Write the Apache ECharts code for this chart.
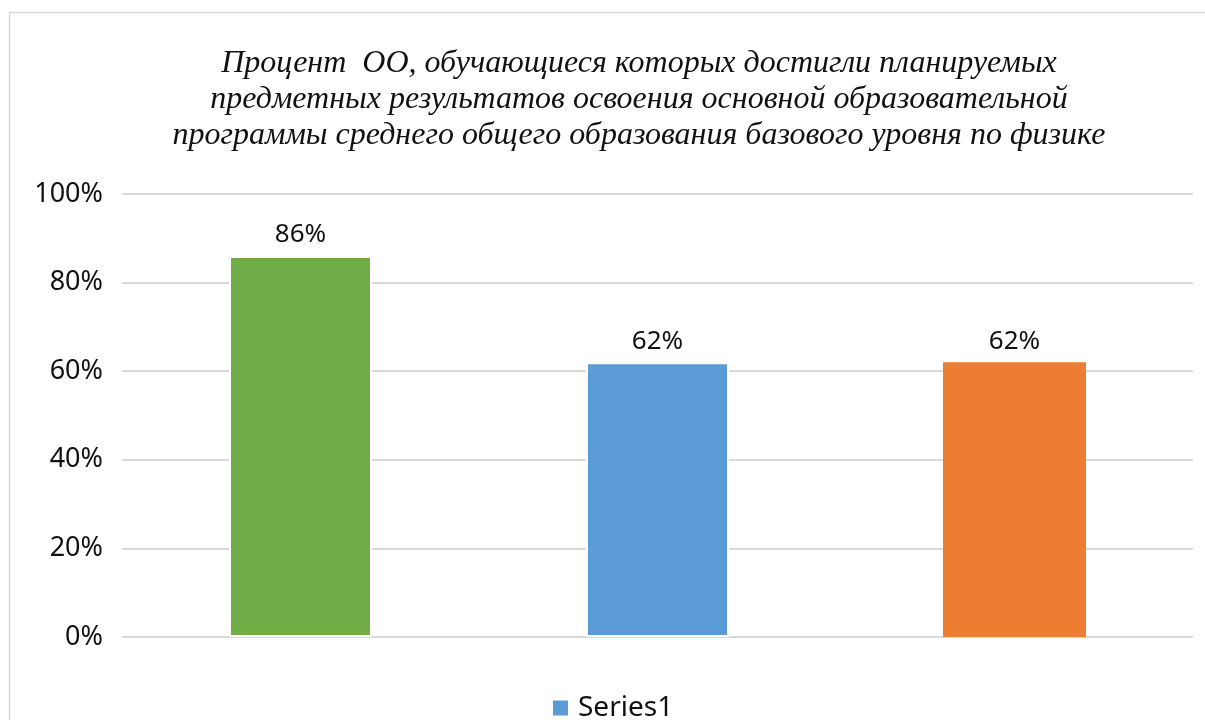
<!DOCTYPE html>
<html>
<head>
<meta charset="utf-8">
<script src="https://cdn.jsdelivr.net/npm/echarts@6/dist/echarts.min.js"></script>
<style>
  html, body { margin: 0; padding: 0; background: #fff; }
  #chart { width: 1205px; height: 720px; }
</style>
</head>
<body>
<div id="chart"></div>
<script>
// data
var categories = ["1", "2", "3"];
var values = [0.86, 0.62, 0.62];
var barColors = ["#70ad47", "#5b9bd5", "#ed7d31"];
var yTicks = [0, 0.2, 0.4, 0.6, 0.8, 1];
var seriesName = "Series1";
var titleText = "Процент  ОО, обучающиеся которых достигли планируемых\n" +
  "предметных результатов освоения основной образовательной\n" +
  "программы среднего общего образования базового уровня по физике";

var chart = echarts.init(document.getElementById("chart"));

var pct = function (v) {
  return Math.round(v * 100) + "%";
};

chart.setOption({
  backgroundColor: "#fff",
  animation: false,
  textStyle: { fontFamily: "Noto Sans" },
  graphic: [
    {
      type: "rect",
      shape: { x: 9.5, y: 12.5, width: 1210, height: 730 },
      style: { fill: "none", stroke: "#d9d9d9", lineWidth: 1.5 },
      z: -1
    }
  ],
  title: {
    text: titleText,
    left: 634,
    top: 41,
    textAlign: "center",
    textStyle: {
      fontFamily: "Liberation Serif",
      fontStyle: "italic",
      fontWeight: "normal",
      fontSize: 32,
      lineHeight: 36,
      color: "#111"
    }
  },
  legend: {
    top: 689,
    left: 548,
    icon: "rect",
    itemWidth: 15,
    itemHeight: 15,
    itemGap: 10,
    data: [seriesName],
    textStyle: { fontSize: 28, color: "#111", fontFamily: "Noto Sans", padding: [0, 0, 0, 5] }
  },
  grid: {
    left: 122,
    right: 12,
    top: 194,
    bottom: 83,
    containLabel: false
  },
  xAxis: {
    type: "category",
    data: categories,
    axisLine: { show: false },
    axisTick: { show: false },
    axisLabel: { show: false }
  },
  yAxis: {
    type: "value",
    min: yTicks[0],
    max: yTicks[yTicks.length - 1],
    interval: 0.2,
    axisLine: { show: false },
    axisTick: { show: false },
    axisLabel: {
      margin: 19,
      fontSize: 27,
      color: "#111",
      formatter: pct
    },
    splitLine: { lineStyle: { color: "#d9d9d9", width: 2 } }
  },
  series: [
    {
      name: seriesName,
      type: "bar",
      barWidth: 143,
      itemStyle: { color: barColors[1] },
      label: {
        show: true,
        position: "top",
        distance: 8,
        fontSize: 26,
        color: "#111",
        formatter: function (p) { return pct(p.value); }
      },
      data: values.map(function (v, i) {
        var orange = i === 2;
        return {
          value: v,
          itemStyle: {
            color: barColors[i],
            borderColor: "#fff",
            borderWidth: orange ? 0 : 2
          }
        };
      })
    }
  ]
});
</script>
</body>
</html>
